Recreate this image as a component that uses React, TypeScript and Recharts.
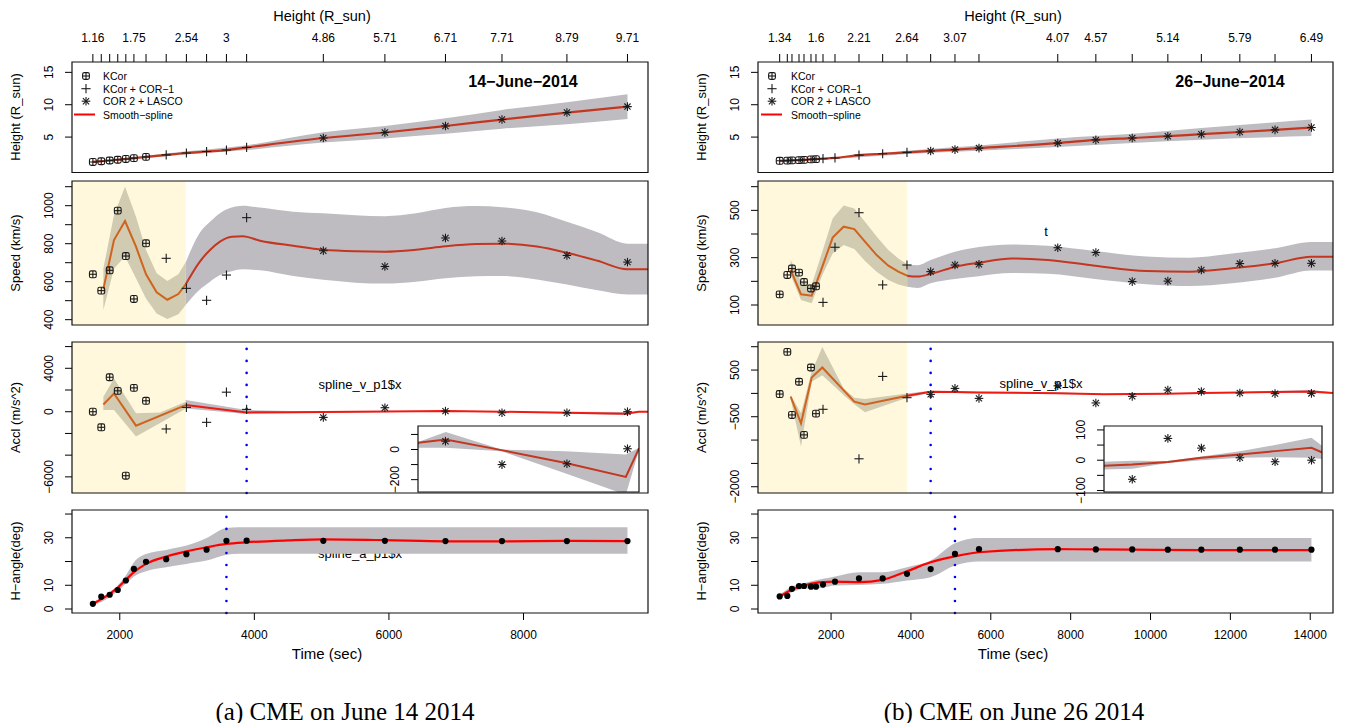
import React from 'react';
import { ComposedChart, Line, Area, Scatter, XAxis, YAxis, ReferenceArea, ReferenceLine } from 'recharts';

const FONT = '"Liberation Sans", Arial, Helvetica, sans-serif';
const SERIF = '"Liberation Serif", "Times New Roman", serif';

// ================= (a) CME on June 14 2014 =================
const timeA = [1600, 1725, 1850, 1970, 2090, 2210, 2390, 2690, 2990, 3290, 3585, 3885, 5025, 5940, 6840, 7680, 8645, 9545];
const instA = ['k', 'k', 'k', 'k', 'k', 'k', 'k', 'p', 'p', 'p', 'p', 'p', 's', 's', 's', 's', 's', 's'];
const heightA = [1.16, 1.27, 1.38, 1.5, 1.62, 1.75, 1.95, 2.25, 2.54, 2.77, 3.0, 3.4, 4.86, 5.71, 6.71, 7.71, 8.79, 9.71];
const heightLabelA = ['1.16', '', '', '', '', '1.75', '', '', '2.54', '', '3', '', '4.86', '5.71', '6.71', '7.71', '8.79', '9.71'];
const speedA = [639, 553, 660, 974, 735, 509, 802, 723, 565, 502, 635, 937, 763, 680, 830, 814, 738, 703];
const accelA = [0, -1435, 3176, 1924, -5893, 2198, 1008, -1588, 400, -977, 1800, 214, -523, 369, 55, -100, -95, 5];
const angleA = [2.2, 5.2, 6.0, 8.0, 12.0, 16.9, 19.9, 21.0, 23.1, 25.0, 28.7, 28.8, 28.7, 28.7, 28.6, 28.6, 28.6, 28.6];

const hBandTA = [1600, 2390, 2990, 3885, 5025, 5940, 6840, 7680, 8645, 9545];
const hBandLoA = [1.0, 1.75, 2.3, 3.0, 4.15, 4.8, 5.5, 6.3, 7.0, 7.8];
const hBandHiA = [1.3, 2.1, 2.8, 3.75, 5.75, 6.7, 7.9, 9.2, 10.4, 11.6];

const spdFitTA1 = [1756, 1914, 2078, 2241, 2390, 2548, 2707, 2870, 2980];
const spdFitA1 = [561, 819, 919, 784, 639, 544, 505, 535, 586];
const spdLoA1 = [451, 670, 732, 618, 512, 433, 403, 428, 477];
const spdHiA1 = [670, 951, 1100, 942, 767, 644, 604, 639, 702];
const spdFitTA2 = [2980, 3182, 3341, 3489, 3663, 3826, 4084, 4579, 5025, 5500, 5940, 6400, 6840, 7300, 7680, 8200, 8645, 9100, 9545, 9850];
const spdFitA2 = [586, 702, 767, 811, 837, 839, 816, 789, 768, 760, 758, 768, 786, 798, 800, 785, 752, 710, 665, 665];
const spdLoA2 = [477, 556, 600, 635, 655, 665, 660, 630, 610, 595, 590, 600, 618, 628, 630, 612, 585, 555, 533, 533];
const spdHiA2 = [702, 854, 915, 960, 990, 1000, 990, 968, 960, 950, 945, 960, 988, 998, 992, 965, 915, 860, 800, 800];

const accFitTA1 = [1756, 1914, 2241, 2980];
const accFitA1 = [672, 1679, -1282, 611];
const accBandTA1 = [1756, 1914, 2241, 2600, 2980];
const accLoA1 = [153, 153, -2290, -1040, 305];
const accHiA1 = [1374, 3053, -150, -60, 916];
const accFitTA2 = [2980, 3885, 4500, 5025, 5940, 6432, 6845, 7673, 8628, 9520, 9712, 9850];
const accFitA2 = [611, -61, -40, -30, 20, 44, 67, -4, -89, -182, 4, 4];
const accLoA2 = [305, -214, -130, -110, -40, 11, 11, -11, -160, -300, -10, -10];
const accHiA2 = [1069, 153, 60, 50, 70, 49, 116, 0, -11, -33, 10, 10];

const angFitTA = [1600, 1850, 1970, 2090, 2210, 2390, 2690, 2990, 3290, 3585, 3885, 4500, 5025, 5940, 6840, 7680, 8645, 9545];
const angFitA = [2.2, 6.4, 9.0, 12.3, 15.5, 19.0, 22.1, 24.3, 26.0, 27.4, 28.1, 28.9, 29.3, 29.0, 28.5, 28.5, 28.7, 28.6];
const angBandTA = [1600, 1850, 1970, 2090, 2210, 2390, 2690, 2990, 3290, 3585, 3760, 9545];
const angLoA = [1.5, 5.0, 7.6, 10.6, 13.7, 15.9, 17.6, 19.0, 20.4, 22.9, 23.3, 23.3];
const angHiA = [2.9, 7.1, 9.9, 14.1, 19.7, 23.2, 24.9, 26.7, 29.9, 34.1, 34.4, 34.4];

// ================= (b) CME on June 26 2014 =================
const timeB = [713, 904, 1021, 1197, 1322, 1497, 1622, 1798, 2098, 2699, 3292, 3901, 4494, 5103, 5704, 7677, 8631, 9542, 10434, 11273, 12237, 13118, 14030];
const instB = ['k', 'k', 'k', 'k', 'k', 'k', 'k', 'p', 'p', 'p', 'p', 'p', 's', 's', 's', 's', 's', 's', 's', 's', 's', 's', 's'];
const heightB = [1.34, 1.37, 1.4, 1.44, 1.48, 1.55, 1.6, 1.66, 1.78, 2.21, 2.43, 2.64, 2.86, 3.07, 3.3, 4.07, 4.57, 4.85, 5.14, 5.45, 5.79, 6.12, 6.49];
const heightLabelB = ['1.34', '', '', '', '', '', '1.6', '', '', '2.21', '', '2.64', '', '3.07', '', '4.07', '4.57', '', '5.14', '', '5.79', '', '6.49'];
const speedB = [145, 227, 254, 237, 197, 170, 179, 111, 344, 490, 185, 269, 241, 269, 272, 342, 322, 199, 201, 248, 275, 276, 276];
const accelB = [-14, 889, -462, 249, -889, 555, -434, -341, null, -1401, 363, -92, -21, 107, -107, 163, -205, -63, 72, 40, 8, -5, 0];
const angleB = [5.3, 5.5, 8.5, 9.7, 9.7, 9.4, 9.4, 10.3, 11.5, 12.9, 12.9, 14.8, 16.8, 23.2, 25.2, 25.2, 25.1, 25.1, 25.0, 25.0, 25.0, 25.0, 25.0];

const hBandTB = [713, 2098, 3901, 5704, 7677, 9542, 11273, 14030];
const hBandLoB = [1.25, 1.65, 2.4, 2.9, 3.45, 4.1, 4.6, 5.15];
const hBandHiB = [1.45, 1.9, 2.9, 3.7, 4.8, 5.5, 6.4, 7.7];

const spdFitTB1 = [988, 1247, 1514, 1781, 2040, 2315, 2582, 2849, 3141, 3434, 3684, 3905];
const spdFitB1 = [248, 145, 139, 262, 385, 431, 421, 368, 311, 266, 241, 224];
const spdLoB1 = [227, 121, 107, 227, 318, 354, 337, 286, 241, 206, 187, 177];
const spdHiB1 = [290, 199, 185, 325, 466, 520, 508, 452, 389, 332, 297, 272];
const spdFitTB2 = [3905, 4169, 4494, 5103, 5704, 6522, 7429, 8608, 9898, 10972, 12044, 13118, 14030, 14570];
const spdFitB2 = [224, 220, 231, 262, 279, 297, 290, 266, 244, 241, 255, 276, 304, 304];
const spdLoB2 = [177, 172, 192, 210, 222, 235, 232, 210, 188, 180, 192, 215, 246, 246];
const spdHiB2 = [272, 268, 290, 325, 345, 356, 350, 328, 305, 300, 318, 340, 366, 366];

const accFitTB1 = [988, 1247, 1514, 1781, 2582, 2849, 3905];
const accFitB1 = [-71, -640, 341, 555, -178, -235, -50];
const accBandTB1 = [988, 1247, 1514, 1781, 2315, 2582, 2849, 3905];
const accLoB1 = [-121, -1138, 249, 391, -36, -235, -405, -92];
const accHiB1 = [-36, -427, 462, 996, 107, -92, -121, 0];
const accFitTB2 = [3905, 4494, 5103, 5704, 7677, 8834, 9542, 10434, 11273, 12237, 13118, 14030, 14570];
const accFitB2 = [-50, 36, 30, 20, 5, -18, -14, -6, 8, 19, 30, 41, 10];
const accLoB2 = [-92, 15, 10, 0, -15, -31, -28, -9, 0, 8, 10, 8, 0];
const accHiB2 = [0, 55, 48, 35, 20, -5, -2, -3, 12, 30, 50, 74, 20];

const angFitTB = [713, 1021, 1322, 1622, 1798, 2098, 2699, 3292, 3901, 4494, 5103, 5704, 7677, 8631, 9542, 11273, 14030];
const angFitB = [5.3, 8.1, 9.9, 11.0, 11.3, 11.5, 11.3, 12.3, 15.9, 19.7, 22.2, 23.9, 25.2, 25.1, 25.0, 24.8, 24.8];
const angBandTB = [713, 1021, 1322, 1798, 2098, 2699, 3292, 3901, 4494, 5103, 5704, 14030];
const angLoB = [4.6, 7.1, 8.5, 9.0, 9.9, 10.1, 10.6, 12.0, 13.4, 18.3, 20.0, 20.0];
const angHiB = [6.0, 9.5, 10.9, 12.7, 13.7, 15.5, 15.5, 17.6, 20.4, 27.7, 29.9, 29.9];

// axis ticks
const xTicksA = [2000, 4000, 6000, 8000];
const xTicksB = [2000, 4000, 6000, 8000, 10000, 12000, 14000];
const hTicks = [5, 10, 15];
const spdTicksA = [400, 500, 600, 700, 800, 900, 1000, 1100];
const spdShowA = [400, 600, 800, 1000];
const spdTicksB = [100, 200, 300, 400, 500, 600];
const spdShowB = [100, 300, 500];
const accTicksA = [-6000, -4000, -2000, 0, 2000, 4000, 6000];
const accShowA = [-6000, 0, 4000];
const accTicksB = [-2000, -1500, -1000, -500, 0, 500, 1000];
const accShowB = [-2000, -500, 500];
const angTicks = [0, 10, 20, 30, 40];
const angShow = [0, 10, 30];
const insetTicksA = [-200, -100, 0, 100];
const insetShowA = [-200, 0];
const insetTicksB = [-100, -50, 0, 50, 100];
const insetShowB = [-100, 0, 100];

// ---------------- helpers ----------------
const COL = {
  yellow: '#FFF8DC', band: '#BEBCC1', bandY: '#D0CBB1', lineY: '#D0631E', lineG: '#C3361F', red: '#F01A14', blue: '#0000FF',
};

const zip = (t: number[], v: (number | null)[]) =>
  t.map((x, i) => ({ t: x, v: v[i] })).filter((d) => d.v !== null && d.v !== undefined);
const band = (t: number[], lo: number[], hi: number[]) => t.map((x, i) => ({ t: x, r: [lo[i], hi[i]] }));
const pick = (t: number[], v: (number | null)[], inst: string[], kind: string) =>
  zip(t, v.map((y, i) => (inst[i] === kind ? y : null)));

const fmt = (v: number) => (v < 0 ? '\u2212' + Math.abs(v) : String(v));

function Mark({ kind, cx, cy }: any) {
  if (cx == null || cy == null) return null;
  const c = '#1a1a1a';
  if (kind === 'k')
    return (
      <g stroke={c} strokeWidth={1.1} fill="none">
        <rect x={cx - 3.4} y={cy - 3.4} width={6.8} height={6.8} rx={1.8} />
        <line x1={cx - 3.4} x2={cx + 3.4} y1={cy} y2={cy} />
        <line x1={cx} x2={cx} y1={cy - 3.4} y2={cy + 3.4} />
      </g>
    );
  if (kind === 'p')
    return (
      <g stroke={c} strokeWidth={1.1}>
        <line x1={cx - 4.6} x2={cx + 4.6} y1={cy} y2={cy} />
        <line x1={cx} x2={cx} y1={cy - 4.6} y2={cy + 4.6} />
      </g>
    );
  if (kind === 's')
    return (
      <g stroke={c} strokeWidth={1.1}>
        <line x1={cx - 4.3} x2={cx + 4.3} y1={cy} y2={cy} />
        <line x1={cx} x2={cx} y1={cy - 4.3} y2={cy + 4.3} />
        <line x1={cx - 3.1} x2={cx + 3.1} y1={cy - 3.1} y2={cy + 3.1} />
        <line x1={cx - 3.1} x2={cx + 3.1} y1={cy + 3.1} y2={cy - 3.1} />
      </g>
    );
  return <circle cx={cx} cy={cy} r={3.1} fill="#000" />;
}

const scat = (key: string, data: any[], kind: string) => (
  <Scatter key={key} data={data} dataKey="v" isAnimationActive={false} zIndex={600}
    shape={(p: any) => <Mark kind={kind} cx={p.cx} cy={p.cy} />} />
);
const line = (key: string, data: any[], color: string, type: any = 'monotone', w = 2) => (
  <Line key={key} data={data} dataKey="v" type={type} stroke={color} strokeWidth={w} dot={false}
    activeDot={false} isAnimationActive={false} zIndex={400} />
);
const area = (key: string, data: any[], color: string, type: any = 'monotone') => (
  <Area key={key} data={data} dataKey="r" type={type} stroke="none" fill={color} fillOpacity={1}
    dot={false} activeDot={false} isAnimationActive={false} zIndex={100} />
);
const yellow = (x0: number, x1: number, yd: number[]) => (
  <ReferenceArea key="yel" x1={x0} x2={x1} y1={yd[0]} y2={yd[1]} fill={COL.yellow} fillOpacity={1}
    stroke="none" ifOverflow="visible" zIndex={50} />
);
const dotted = (key: string, x: number) => (
  <ReferenceLine key={key} x={x} stroke={COL.blue} strokeWidth={2.6} strokeDasharray="0.01 12"
    strokeLinecap="round" ifOverflow="visible" zIndex={500} />
);

const yTick = (show: number[]) => (p: any) => {
  const v = p.payload?.value;
  if (!show.includes(v)) return <g />;
  const x = p.x - 16;
  const y = p.y;
  return (
    <text x={x} y={y} transform={`rotate(-90 ${x} ${y})`} textAnchor="middle" dominantBaseline="central"
      fontSize={12} fontFamily={FONT} fill="#000">{fmt(v)}</text>
  );
};
const topTick = (times: number[], labels: string[]) => (p: any) => {
  const i = times.indexOf(p.payload?.value);
  const lab = i >= 0 ? labels[i] : '';
  if (!lab) return <g />;
  return (
    <text x={p.x} y={p.y - 16} textAnchor="middle" dominantBaseline="central" fontSize={12}
      fontFamily={FONT} fill="#000">{lab}</text>
  );
};
const bottomTick = (p: any) => (
  <text x={p.x} y={p.y + 15} textAnchor="middle" dominantBaseline="central" fontSize={12}
    fontFamily={FONT} fill="#000">{String(p.payload?.value)}</text>
);

function Panel(p: any) {
  const AX = 70;
  const RM = 12;
  const topH = p.topTicks ? 62 : 0;
  const botH = p.bottomTicks ? 40 : 0;
  const w = p.width + AX + RM;
  const h = p.height + topH + botH;
  return (
    <div style={{ position: 'absolute', left: p.left - AX, top: p.top - topH, width: w, height: h }}>
      <ComposedChart width={w} height={h} margin={{ top: 0, right: RM, bottom: 0, left: 0 }}>
        {p.topTicks ? (
          <XAxis type="number" dataKey="t" domain={p.xDomain} allowDataOverflow orientation="top" height={topH}
            ticks={p.topTicks} interval={0} tickSize={8} tickMargin={0} axisLine={false}
            tickLine={{ stroke: '#000' }} tick={topTick(p.topTicks, p.topLabels)} />
        ) : p.bottomTicks ? (
          <XAxis type="number" dataKey="t" domain={p.xDomain} allowDataOverflow orientation="bottom" height={botH}
            ticks={p.bottomTicks} interval={0} tickSize={7} tickMargin={0} axisLine={false}
            tickLine={{ stroke: '#000' }} tick={bottomTick} />
        ) : (
          <XAxis type="number" dataKey="t" domain={p.xDomain} allowDataOverflow hide />
        )}
        <YAxis type="number" dataKey="v" domain={p.yDomain} allowDataOverflow width={AX} ticks={p.yTicks}
          interval={0} tickSize={7} tickMargin={0} axisLine={false} tickLine={{ stroke: '#000' }}
          tick={yTick(p.yShow)} />
        {p.bg ? (
          <ReferenceArea key="bg" x1={p.xDomain[0]} x2={p.xDomain[1]} y1={p.yDomain[0]} y2={p.yDomain[1]}
            fill="#fff" fillOpacity={1} stroke="none" ifOverflow="visible" zIndex={10} />
        ) : null}
        {p.children}
        <ReferenceArea key="frame" x1={p.xDomain[0]} x2={p.xDomain[1]} y1={p.yDomain[0]} y2={p.yDomain[1]}
          fill="none" fillOpacity={0} stroke="#111" strokeWidth={1.2} ifOverflow="visible" zIndex={1500} />
      </ComposedChart>
    </div>
  );
}

const T = ({ x, y, s, size = 12, weight = 400, rot = false, family = FONT, anchor = 'middle' }: any) => (
  <text x={x} y={y} fontSize={size} fontWeight={weight} fontFamily={family} textAnchor={anchor}
    dominantBaseline="central" transform={rot ? `rotate(-90 ${x} ${y})` : undefined} fill="#000">{s}</text>
);

function LegendBox({ symX, textX, lx1, lx2 }: any) {
  const rows = [76, 88.7, 101.2, 114.5];
  return (
    <g>
      <Mark kind="k" cx={symX} cy={rows[0]} />
      <Mark kind="p" cx={symX} cy={rows[1]} />
      <Mark kind="s" cx={symX} cy={rows[2]} />
      <line x1={lx1} x2={lx2} y1={rows[3]} y2={rows[3]} stroke="#ff0000" strokeWidth={2} />
      <T x={textX} y={rows[0]} s="KCor" size={10.5} anchor="start" />
      <T x={textX} y={rows[1]} s={'KCor + COR\u22121'} size={10.5} anchor="start" />
      <T x={textX} y={rows[2]} s="COR 2 + LASCO" size={10.5} anchor="start" />
      <T x={textX} y={rows[3]} s={'Smooth\u2212spline'} size={10.5} anchor="start" />
    </g>
  );
}

export default function App() {
  const DA = [1290, 9850];
  const DB = [170, 14570];
  const YEL_A = 2980;
  const YEL_B = 3905;
  const LA = 72, WA = 576, LB = 758, WB = 575;
  const rows = { h: [62, 110.5], s: [181, 144], a: [342, 151], g: [509.5, 103] };
  const hDom = [-0.47, 16.6];
  const sDomA = [372, 1130], sDomB = [15.5, 624];
  const aDomA = [-7486, 6422], aDomB = [-2134, 1101];
  const gDom = [-1.68, 41.7];

  return (
    <div style={{ position: 'absolute', left: 0, top: 0, width: 1348, height: 723, background: '#fff', overflow: 'hidden' }}>
      <style>{'.recharts-surface{overflow:visible}'}</style>
      <svg style={{ position: 'absolute', left: 0, top: 0 }} width={1348} height={723}>
        <T x={360} y={553} s="spline_a_p1$x" size={13} />
      </svg>

      {/* ---------- (a) ---------- */}
      <Panel left={LA} top={rows.h[0]} width={WA} height={rows.h[1]} xDomain={DA} yDomain={hDom}
        yTicks={hTicks} yShow={hTicks} topTicks={timeA} topLabels={heightLabelA}>
        {[
          area('hb', band(hBandTA, hBandLoA, hBandHiA), COL.band),
          line('hl', zip(timeA, heightA), COL.lineG, 'monotone', 2.2),
          scat('hk', pick(timeA, heightA, instA, 'k'), 'k'),
          scat('hp', pick(timeA, heightA, instA, 'p'), 'p'),
          scat('hs', pick(timeA, heightA, instA, 's'), 's'),
        ]}
      </Panel>
      <Panel left={LA} top={rows.s[0]} width={WA} height={rows.s[1]} xDomain={DA} yDomain={sDomA}
        yTicks={spdTicksA} yShow={spdShowA}>
        {[
          yellow(DA[0], YEL_A, sDomA),
          area('sb1', band(spdFitTA1, spdLoA1, spdHiA1), COL.bandY, 'linear'),
          area('sb2', band(spdFitTA2, spdLoA2, spdHiA2), COL.band),
          line('sl1', zip(spdFitTA1, spdFitA1), COL.lineY, 'linear'),
          line('sl2', zip(spdFitTA2, spdFitA2), COL.lineG),
          scat('sk', pick(timeA, speedA, instA, 'k'), 'k'),
          scat('sp', pick(timeA, speedA, instA, 'p'), 'p'),
          scat('ss', pick(timeA, speedA, instA, 's'), 's'),
        ]}
      </Panel>
      <Panel left={LA} top={rows.a[0]} width={WA} height={rows.a[1]} xDomain={DA} yDomain={aDomA}
        yTicks={accTicksA} yShow={accShowA}>
        {[
          yellow(DA[0], YEL_A, aDomA),
          area('ab1', band(accBandTA1, accLoA1, accHiA1), COL.bandY, 'linear'),
          area('ab2', band(accFitTA2, accLoA2, accHiA2), COL.band, 'linear'),
          line('al1', zip(accFitTA1, accFitA1), COL.lineY, 'linear'),
          line('al2', zip(accFitTA2, accFitA2), COL.red, 'linear'),
          dotted('ad', timeA[11]),
          scat('ak', pick(timeA, accelA, instA, 'k'), 'k'),
          scat('ap', pick(timeA, accelA, instA, 'p'), 'p'),
          scat('as', pick(timeA, accelA, instA, 's'), 's'),
        ]}
      </Panel>
      <Panel left={418} top={426} width={221} height={66} xDomain={[6432, 9716]} yDomain={[-282, 156]}
        yTicks={insetTicksA} yShow={insetShowA} bg>
        {[
          area('ib', band(accFitTA2, accLoA2, accHiA2), COL.band, 'linear'),
          line('il', zip(accFitTA2, accFitA2), COL.lineG, 'linear'),
          scat('is', pick(timeA, accelA, instA, 's'), 's'),
        ]}
      </Panel>
      <Panel left={LA} top={rows.g[0]} width={WA} height={rows.g[1]} xDomain={DA} yDomain={gDom}
        yTicks={angTicks} yShow={angShow} bottomTicks={xTicksA}>
        {[
          area('gb', band(angBandTA, angLoA, angHiA), COL.band),
          line('gl', zip(angFitTA, angFitA), '#FF0000', 'monotone', 2.2),
          dotted('gd', timeA[10]),
          scat('gp', zip(timeA, angleA), 'd'),
        ]}
      </Panel>

      {/* ---------- (b) ---------- */}
      <Panel left={LB} top={rows.h[0]} width={WB} height={rows.h[1]} xDomain={DB} yDomain={hDom}
        yTicks={hTicks} yShow={hTicks} topTicks={timeB} topLabels={heightLabelB}>
        {[
          area('hb', band(hBandTB, hBandLoB, hBandHiB), COL.band),
          line('hl', zip(timeB, heightB), COL.lineG, 'monotone', 2.2),
          scat('hk', pick(timeB, heightB, instB, 'k'), 'k'),
          scat('hp', pick(timeB, heightB, instB, 'p'), 'p'),
          scat('hs', pick(timeB, heightB, instB, 's'), 's'),
        ]}
      </Panel>
      <Panel left={LB} top={rows.s[0]} width={WB} height={rows.s[1]} xDomain={DB} yDomain={sDomB}
        yTicks={spdTicksB} yShow={spdShowB}>
        {[
          yellow(DB[0], YEL_B, sDomB),
          area('sb1', band(spdFitTB1, spdLoB1, spdHiB1), COL.bandY, 'linear'),
          area('sb2', band(spdFitTB2, spdLoB2, spdHiB2), COL.band),
          line('sl1', zip(spdFitTB1, spdFitB1), COL.lineY, 'linear'),
          line('sl2', zip(spdFitTB2, spdFitB2), COL.lineG),
          scat('sk', pick(timeB, speedB, instB, 'k'), 'k'),
          scat('sp', pick(timeB, speedB, instB, 'p'), 'p'),
          scat('ss', pick(timeB, speedB, instB, 's'), 's'),
        ]}
      </Panel>
      <Panel left={LB} top={rows.a[0]} width={WB} height={rows.a[1]} xDomain={DB} yDomain={aDomB}
        yTicks={accTicksB} yShow={accShowB}>
        {[
          yellow(DB[0], YEL_B, aDomB),
          area('ab1', band(accBandTB1, accLoB1, accHiB1), COL.bandY, 'linear'),
          area('ab2', band(accFitTB2, accLoB2, accHiB2), COL.band, 'linear'),
          line('al1', zip(accFitTB1, accFitB1), COL.lineY, 'linear'),
          line('al2', zip(accFitTB2, accFitB2), COL.red, 'linear'),
          dotted('ad', timeB[12]),
          scat('ak', pick(timeB, accelB, instB, 'k'), 'k'),
          scat('ap', pick(timeB, accelB, instB, 'p'), 'p'),
          scat('as', pick(timeB, accelB, instB, 's'), 's'),
        ]}
      </Panel>
      <Panel left={1104} top={426} width={218} height={66} xDomain={[8834, 14293]} yDomain={[-105, 113]}
        yTicks={insetTicksB} yShow={insetShowB} bg>
        {[
          area('ib', band(accFitTB2, accLoB2, accHiB2), COL.band, 'linear'),
          line('il', zip(accFitTB2, accFitB2), COL.lineG, 'linear'),
          scat('is', pick(timeB, accelB, instB, 's'), 's'),
        ]}
      </Panel>
      <Panel left={LB} top={rows.g[0]} width={WB} height={rows.g[1]} xDomain={DB} yDomain={gDom}
        yTicks={angTicks} yShow={angShow} bottomTicks={xTicksB}>
        {[
          area('gb', band(angBandTB, angLoB, angHiB), COL.band),
          line('gl', zip(angFitTB, angFitB), '#FF0000', 'monotone', 2.2),
          dotted('gd', timeB[13]),
          scat('gp', zip(timeB, angleB), 'd'),
        ]}
      </Panel>

      <svg style={{ position: 'absolute', left: 0, top: 0, pointerEvents: 'none' }} width={1348} height={723}>
        <T x={322} y={16} s="Height (R_sun)" size={14.5} />
        <T x={1013} y={16} s="Height (R_sun)" size={14.5} />
        <T x={523} y={81} s={'14\u2212June\u22122014'} size={16} weight={700} />
        <T x={1230} y={81} s={'26\u2212June\u22122014'} size={16} weight={700} />
        <LegendBox symX={86} textX={103} lx1={74} lx2={95} />
        <LegendBox symX={772} textX={791} lx1={761} lx2={782} />
        <T x={360} y={384} s="spline_v_p1$x" size={13} />
        <T x={1041} y={383} s="spline_v_p1$x" size={13} />
        <T x={1046} y={231} s="t" size={13} />
        <T x={15} y={117} s="Height (R_sun)" size={13} rot />
        <T x={15} y={253} s="Speed (km/s)" size={13} rot />
        <T x={15} y={417.5} s="Accl (m/s^2)" size={13} rot />
        <T x={15} y={561} s={'H\u2212angle(deg)'} size={13} rot />
        <T x={701.5} y={117} s="Height (R_sun)" size={13} rot />
        <T x={701.5} y={253} s="Speed (km/s)" size={13} rot />
        <T x={701.5} y={417.5} s="Accl (m/s^2)" size={13} rot />
        <T x={701.5} y={561} s={'H\u2212angle(deg)'} size={13} rot />
        <T x={327} y={653} s="Time (sec)" size={15} />
        <T x={1013} y={653} s="Time (sec)" size={15} />
        <T x={345} y={711} s="(a) CME on June 14 2014" size={25} family={SERIF} />
        <T x={1014} y={711} s="(b) CME on June 26 2014" size={25} family={SERIF} />
      </svg>
    </div>
  );
}
